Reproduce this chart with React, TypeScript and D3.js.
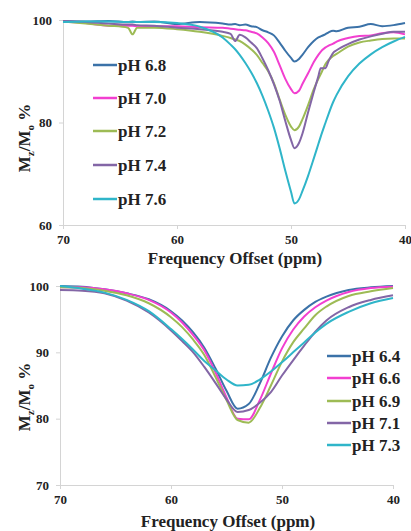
import { useEffect, useRef } from "react"
import { select, scaleLinear, axisBottom, axisLeft, line, curveMonotoneX } from "d3"

// top panel
const topOffsets = [70, 68, 66, 64.3, 63.9, 63.5, 62, 60, 58, 56, 55.3, 54.9, 54.5, 54, 53.5, 53, 52.5, 52, 51.5, 51, 50.5, 50, 49.7, 49.3, 49, 48.5, 48, 47.6, 47.4, 47, 46.7, 46.3, 46, 45, 44, 43, 42, 41, 40]
const topLabels = ["pH 6.8", "pH 7.0", "pH 7.2", "pH 7.4", "pH 7.6"]
const ph68 = [99.8, 99.7, 99.8, 99.6, 99.7, 99.6, 99.7, 99.2, 99.6, 99.3, 99.1, 99.2, 99.0, 99.1, 98.8, 98.6, 98.0, 97.6, 97.0, 95.6, 94.0, 92.6, 91.9, 92.4, 93.2, 94.7, 95.9, 96.6, 96.8, 97.2, 97.6, 97.9, 97.8, 98.5, 98.7, 99.2, 98.8, 99.0, 99.4]
const ph70 = [99.7, 99.4, 98.9, 98.9, 98.9, 98.8, 98.8, 98.8, 98.6, 98.5, 98.3, 98.2, 98.1, 98.0, 97.7, 97.4, 96.6, 95.5, 93.8, 91.2, 88.5, 86.5, 85.7, 86.2, 87.5, 89.6, 91.8, 93.2, 93.8, 94.6, 95.0, 95.4, 95.8, 96.5, 96.9, 97.0, 97.4, 97.6, 97.2]
const ph72 = [99.7, 99.3, 98.9, 98.5, 97.2, 98.5, 98.5, 98.2, 97.7, 96.9, 96.5, 96.2, 95.9, 95.2, 94.3, 93.2, 91.6, 90.0, 87.7, 84.5, 81.5, 79.2, 78.5, 79.2, 80.6, 83.4, 86.5, 88.5, 89.4, 91.3, 92.2, 93.0, 93.4, 94.8, 95.6, 96.0, 96.3, 96.4, 96.4]
const ph74 = [99.8, 99.6, 99.3, 99.1, 99.1, 99.0, 98.9, 98.5, 98.2, 97.7, 97.3, 95.9, 97.1, 96.6, 95.6, 94.5, 92.5, 90.2, 87.5, 84.3, 80.3, 76.6, 75.0, 76.0, 77.8, 82.0, 86.0, 89.0, 90.6, 90.6, 92.0, 93.6, 94.1, 95.3, 96.2, 96.8, 97.3, 97.7, 97.7]
const ph76 = [99.6, 99.7, 99.7, 99.6, 99.6, 99.6, 99.6, 99.4, 98.7, 96.6, 95.2, 94.3, 93.2, 91.6, 89.8, 87.7, 85.2, 82.3, 79.0, 75.0, 70.6, 66.5, 64.2, 65.0, 66.6, 69.6, 73.0, 75.8, 77.2, 79.8, 81.7, 84.0, 85.4, 89.0, 91.5, 93.3, 94.7, 95.8, 96.7]
const topSeries = [ph68, ph70, ph72, ph74, ph76]
const topYTicks = [60, 80, 100]

// bottom panel
const botOffsets = [70, 68, 66, 64, 62, 60, 59, 58, 57, 56, 55, 54, 53, 52, 51, 50, 49, 48, 47, 46, 44, 42, 40]
const botLabels = ["pH 6.4", "pH 6.6", "pH 6.9", "pH 7.1", "pH 7.3"]
const ph64 = [100, 99.9, 99.5, 98.9, 98.0, 96.2, 94.8, 93.0, 90.7, 87.6, 84.2, 81.5, 82.2, 85.3, 89.2, 92.4, 94.8, 96.4, 97.6, 98.4, 99.4, 99.8, 100]
const ph66 = [99.8, 99.8, 99.5, 98.9, 97.9, 96.0, 94.5, 92.6, 90.3, 87.0, 83.2, 80.0, 79.9, 82.8, 86.8, 90.6, 93.4, 95.4, 96.8, 97.8, 99.1, 99.7, 99.9]
const ph69 = [99.8, 99.7, 99.3, 98.6, 97.4, 95.3, 93.8, 91.9, 89.6, 86.3, 82.8, 79.8, 79.4, 81.6, 85.0, 88.6, 91.5, 93.6, 95.6, 96.9, 98.5, 99.2, 99.7]
const ph71 = [99.4, 99.3, 98.9, 97.8, 96.0, 93.3, 91.7, 90.0, 87.8, 85.4, 82.9, 81.0, 81.3, 82.4, 84.0, 86.5, 88.8, 91.0, 93.1, 94.8, 96.8, 97.9, 98.6]
const ph73 = [100, 99.6, 99.0, 97.9, 96.2, 93.5, 92.0, 90.4, 88.7, 87.3, 85.9, 85.0, 85.1, 85.9, 87.1, 88.5, 90.0, 91.5, 93.0, 94.3, 96.1, 97.4, 98.2]
const botSeries = [ph64, ph66, ph69, ph71, ph73]
const botYTicks = [70, 80, 90, 100]

const xTicks = [70, 60, 50, 40]
const colors = ["#3b72a8", "#f23fd0", "#9dbb55", "#8366a6", "#2fb5c9"]

const serif = "'Liberation Serif', 'Times New Roman', serif"

const App = () => {
  const svgRef = useRef(null)

  useEffect(() => {
    const svg = select(svgRef.current)
    svg.selectAll("*").remove()

    const panel = (cfg) => {
      const x = scaleLinear().domain([70, 40]).range([cfg.left, cfg.right])
      const y = scaleLinear().domain(cfg.yDomain).range([cfg.bottom, cfg.top])
      const g = svg.append("g")

      const xa = g.append("g")
        .attr("transform", "translate(0," + cfg.bottom + ")")
        .call(axisBottom(x).tickValues(xTicks).tickSize(4).tickPadding(6).tickFormat((d) => d))
      const ya = g.append("g")
        .attr("transform", "translate(" + cfg.left + ",0)")
        .call(axisLeft(y).tickValues(cfg.yTicks).tickSize(4).tickPadding(7).tickFormat((d) => d))
      ;[xa, ya].forEach((a) => {
        a.select(".domain").attr("stroke", "#d4d4d4")
        a.selectAll(".tick line").attr("stroke", "#d4d4d4")
        a.selectAll(".tick text")
          .attr("font-family", serif).attr("font-weight", "bold")
          .attr("font-size", 13).attr("fill", "#222")
      })

      const myLine = line()
        .x((d, i) => x(cfg.offsets[i]))
        .y((d) => y(d))
        .curve(curveMonotoneX)
      g.selectAll(".line")
        .data(cfg.series)
        .join("path")
        .attr("d", myLine)
        .attr("fill", "none")
        .attr("stroke", (d, i) => colors[i])
        .attr("stroke-width", 2)

      // legend
      cfg.labels.forEach((lab, i) => {
        const ly = cfg.legendY[i]
        g.append("line")
          .attr("x1", cfg.legendX).attr("x2", cfg.legendX + 24)
          .attr("y1", ly).attr("y2", ly)
          .attr("stroke", colors[i]).attr("stroke-width", 2.5)
        g.append("text")
          .attr("x", cfg.legendX + 25).attr("y", ly)
          .attr("dy", "0.35em")
          .attr("font-family", serif).attr("font-weight", "bold")
          .attr("font-size", 17).attr("fill", "#222")
          .text(lab)
      })

      g.append("text")
        .attr("x", cfg.titleX).attr("y", cfg.titleY)
        .attr("text-anchor", "middle")
        .attr("font-family", serif).attr("font-weight", "bold")
        .attr("font-size", 17).attr("fill", "#222")
        .text("Frequency Offset (ppm)")

      const yt = g.append("text")
        .attr("transform", "translate(" + 30 + "," + cfg.yTitleY + ") rotate(-90)")
        .attr("text-anchor", "middle")
        .attr("font-family", serif).attr("font-weight", "bold")
        .attr("font-size", 17).attr("fill", "#222")
      yt.append("tspan").text("M")
      yt.append("tspan").attr("font-size", 11).attr("dy", 4).text("z")
      yt.append("tspan").attr("dy", -4).text("/M")
      yt.append("tspan").attr("font-size", 11).attr("dy", 4).text("o")
      yt.append("tspan").attr("dy", -4).text(" %")
    }

    panel({
      left: 63, right: 405, top: 20, bottom: 225, yDomain: [60, 100], yTicks: topYTicks,
      offsets: topOffsets, series: topSeries, labels: topLabels,
      legendX: 93, legendY: [65, 98, 131, 165, 199],
      titleX: 235, titleY: 264, yTitleY: 138,
    })
    panel({
      left: 60, right: 393, top: 286, bottom: 485, yDomain: [70, 100], yTicks: botYTicks,
      offsets: botOffsets, series: botSeries, labels: botLabels,
      legendX: 327, legendY: [356, 378, 401, 423, 445],
      titleX: 228, titleY: 527, yTitleY: 397,
    })
  }, [])

  return (
    <svg ref={svgRef} width={411} height={531}
      style={{ position: "absolute", left: 0, top: 0, background: "#fff" }} />
  )
}
export default App
